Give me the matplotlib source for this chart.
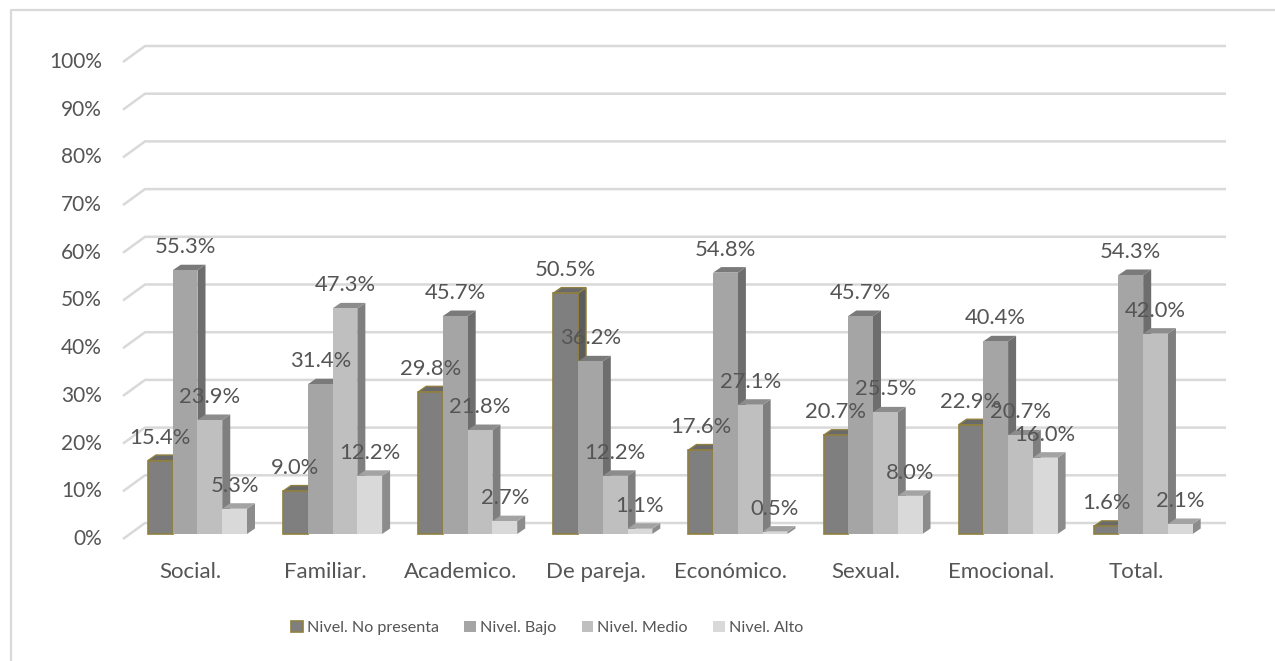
import matplotlib
matplotlib.use("Agg")
import matplotlib.pyplot as plt
from matplotlib.patches import Polygon, Patch
import numpy as np

plt.rcParams['font.family'] = ['Lato', 'DejaVu Sans']

categories = ["Social.", "Familiar.", "Academico.", "De pareja.",
              "Económico.", "Sexual.", "Emocional.", "Total."]
series_names = ["Nivel. No presenta", "Nivel. Bajo", "Nivel. Medio", "Nivel. Alto"]
no_presenta = [15.4, 9.0, 29.8, 50.5, 17.6, 20.7, 22.9, 1.6]
bajo = [55.3, 31.4, 45.7, 36.2, 54.8, 45.7, 40.4, 54.3]
medio = [23.9, 47.3, 21.8, 12.2, 27.1, 25.5, 20.7, 42.0]
alto = [5.3, 12.2, 2.7, 1.1, 0.5, 8.0, 16.0, 2.1]
y_ticks = [0, 10, 20, 30, 40, 50, 60, 70, 80, 90, 100]
y_tick_labels = [f"{t}%" for t in y_ticks]

series = [no_presenta, bajo, medio, alto]
front_colors = ["#7f7f7f", "#a5a5a5", "#bfbfbf", "#d9d9d9"]
side_colors = ["#5c5c5c", "#6e6e6e", "#7f7f7f", "#8c8c8c"]
top_colors = ["#6a6a6a", "#7a7a7a", "#8c8c8c", "#a3a3a3"]
edge_colors = ["#8f8040", None, None, None]
text_color = "#555555"
grid_color = "#d9d9d9"

W, H = 1275, 661
fig = plt.figure(figsize=(W / 100, H / 100), dpi=100)
ax = fig.add_axes([0, 0, 1, 1])

# pixel geometry of the plot: category spacing and value scale
cat_px = 135.1
val_px = 4.77
x0_px, y0_px = 197.5, 534.0
ax.set_xlim(-x0_px / cat_px, (W - x0_px) / cat_px)
ax.set_ylim(-(H - y0_px) / val_px, y0_px / val_px)
ax.axis("off")

def px_x(p):
    return p / cat_px

def px_y(p):
    return p / val_px

# outer chart frame
ax.plot([px_x(11 - x0_px), px_x(11 - x0_px), px_x(W + 5 - x0_px)],
        [px_y(y0_px - H - 5), px_y(y0_px - 10), px_y(y0_px - 10)],
        color="#d9d9d9", lw=1.6, clip_on=False, zorder=1)

# gridlines with the side wall diagonal
back_shift = px_y(11)
front_shift = -px_y(5)
left_front, left_back, right_back = px_x(123 - x0_px), px_x(145 - x0_px), px_x(1226 - x0_px)
for t, lab in zip(y_ticks, y_tick_labels):
    ax.plot([left_front, left_back, right_back],
            [t + front_shift, t + back_shift, t + back_shift],
            color=grid_color, lw=1.8, zorder=2, solid_capstyle="butt")
    ax.text(px_x(102 - x0_px), t + front_shift, lab, ha="right", va="center",
            fontsize=15, color=text_color)

# bars with depth faces
n = len(series)
bar_w = 99.0 / cat_px / n
dx, dy = px_x(8), px_y(5.5)
x = np.arange(len(categories))
for k, (vals, fc, sc, tc, ec) in enumerate(zip(series, front_colors, side_colors,
                                               top_colors, edge_colors)):
    left = x - 2 * bar_w + k * bar_w
    for i, v in enumerate(vals):
        xl, xr = left[i], left[i] + bar_w
        z = 3 + i * 10 + k * 2
        lw = 1.0 if ec else 0
        side = Polygon([(xr, 0), (xr, v), (xr + dx, v + dy), (xr + dx, dy)],
                       closed=True, facecolor=sc, edgecolor=ec or sc, lw=lw, zorder=z)
        top = Polygon([(xl, v), (xr, v), (xr + dx, v + dy), (xl + dx, v + dy)],
                      closed=True, facecolor=tc, edgecolor=ec or tc, lw=lw, zorder=z)
        ax.add_patch(side)
        ax.add_patch(top)
    bars = ax.bar(left, vals, width=bar_w, align="edge", color=fc,
                  edgecolor=ec if ec else fc, linewidth=1.2 if ec else 0)
    for i, b in enumerate(bars):
        b.set_zorder(4 + i * 10 + k * 2)
    for i, v in enumerate(vals):
        ax.text(left[i] + bar_w / 2, v + px_y(23), f"{v:.1f}%", ha="center",
                va="center", fontsize=15.8, color=text_color, zorder=200)

# category labels
for i, c in enumerate(categories):
    ax.text(x[i] - px_x(7), -px_y(572 - y0_px), c, ha="center", va="center",
            fontsize=16, color=text_color)

handles = [Patch(facecolor=fc, edgecolor=ec if ec else fc, lw=1.2 if ec else 0)
           for fc, ec in zip(front_colors, edge_colors)]
fig.legend(handles, series_names, loc="center", bbox_to_anchor=(547 / W, 1 - 628 / H),
           ncol=4, frameon=False, fontsize=11.6, handlelength=0.7, handleheight=0.7,
           handletextpad=0.25, columnspacing=1.6, labelcolor=text_color)

fig.savefig("out.png", dpi=100)
